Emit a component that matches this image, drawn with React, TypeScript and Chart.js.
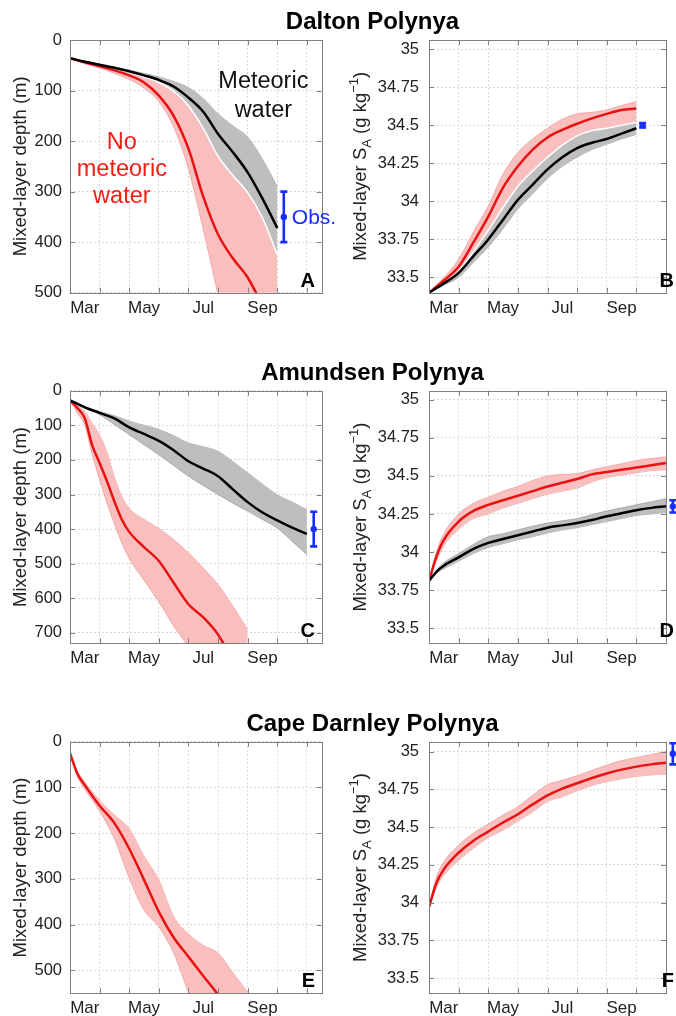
import React, { useEffect, useRef } from "react";
import { Chart, registerables } from "chart.js";
Chart.register(...registerables);

const FONT = '"Liberation Sans", Arial, Helvetica, sans-serif';
const RED = "rgb(232,18,18)";
const PINK = "rgb(249,190,190)";
const PINK_EDGE = "rgb(238,160,160)";
const GRAY = "rgb(190,190,190)";
const GRAY_EDGE = "rgb(160,160,160)";
const BLUE = "rgb(25,45,255)";

// ---------- axis ticks ----------
const MONTH_BOUNDS = [0, 1, 2, 3, 4, 5, 6, 7, 8];
const MONTH_LABEL_POS = [0.5, 2.5, 4.5, 6.5];
const MONTH_LABELS = ["Mar", "May", "Jul", "Sep"];
const DEPTH_TICKS_A = [0, 100, 200, 300, 400, 500];
const DEPTH_TICKS_C = [0, 100, 200, 300, 400, 500, 600, 700];
const SAL_TICKS = [33.5, 33.75, 34, 34.25, 34.5, 34.75, 35];
const SAL_TICK_LABELS = ["33.5", "33.75", "34", "34.25", "34.5", "34.75", "35"];

// ---------- Panel A: Dalton depth (months after 1 Mar) ----------
const A_X = [0, 0.5, 1, 1.5, 2, 2.5, 3, 3.5, 4, 4.5, 5, 5.5, 6, 6.5, 7];
const A_MET = [36, 43, 49, 55, 62, 70, 79, 92, 114, 142, 186, 222, 262, 314, 372];
const A_MET_SHALLOW = [36, 42, 48, 54, 60, 66, 73, 82, 94, 116, 146, 170, 192, 236, 290];
const A_MET_DEEP = [36, 44, 51, 57, 64, 73, 84, 101, 130, 175, 230, 268, 302, 352, 425];
const A_NOMET = [36, 44, 52, 60, 70, 84, 110, 150, 215, 310, 385, 432, 470, 525, 580];
const A_NOMET_SHALLOW = [36, 44, 51, 57, 64, 73, 84, 101, 130, 175, 230, 268, 302, 352, 425];
const A_NOMET_DEEP = [36, 47, 55, 66, 78, 95, 122, 172, 255, 375, 505, 640, 770, 900, 1000];
const A_OBS = { x: 7.22, y: 350, err: 50 };

// ---------- Panel B: Dalton salinity ----------
const B_X = [0, 0.5, 1, 1.5, 2, 2.5, 3, 3.5, 4, 4.5, 5, 5.5, 6, 6.5, 7];
const B_NOMET = [33.4, 33.48, 33.57, 33.73, 33.9, 34.09, 34.23, 34.34, 34.42, 34.47, 34.51, 34.545, 34.575, 34.6, 34.61];
const B_NOMET_HI = [33.4, 33.5, 33.62, 33.8, 33.97, 34.18, 34.32, 34.41, 34.48, 34.54, 34.575, 34.585, 34.6, 34.63, 34.655];
const B_EDGE = [33.4, 33.46, 33.54, 33.67, 33.81, 33.96, 34.1, 34.2, 34.29, 34.37, 34.43, 34.465, 34.48, 34.5, 34.52];
const B_MET = [33.4, 33.46, 33.53, 33.64, 33.75, 33.88, 34.01, 34.11, 34.21, 34.29, 34.35, 34.385, 34.41, 34.445, 34.48];
const B_MET_LO = [33.4, 33.45, 33.5, 33.6, 33.7, 33.82, 33.95, 34.05, 34.15, 34.23, 34.29, 34.34, 34.375, 34.41, 34.44];
const B_OBS = { x: 7.21, y: 34.5, err: 0.015 };

// ---------- Panel C: Amundsen depth ----------
const C_X = [0, 0.5, 1, 1.5, 2, 2.5, 3, 3.5, 4, 4.5, 5, 5.5, 6, 6.5, 7, 7.5, 8];
const C_MET = [28, 48, 64, 80, 106, 125, 145, 172, 204, 225, 247, 285, 322, 352, 375, 396, 414];
const C_MET_SHALLOW = [28, 46, 60, 72, 88, 100, 112, 130, 151, 162, 175, 205, 237, 270, 301, 322, 344];
const C_MET_DEEP = [28, 50, 69, 98, 127, 156, 185, 216, 247, 274, 300, 325, 348, 372, 397, 435, 474];
const C_NM_X = [0, 0.25, 0.5, 0.75, 1, 1.25, 1.5, 1.75, 2, 2.5, 3, 3.5, 4, 4.5, 5, 5.5, 6];
const C_NOMET = [28, 50, 80, 158, 209, 262, 320, 372, 408, 452, 492, 555, 617, 655, 705, 780, 860];
const C_NOMET_SHALLOW = [28, 42, 60, 95, 128, 178, 250, 305, 340, 372, 398, 430, 468, 512, 560, 622, 690];
const C_NOMET_DEEP = [28, 65, 100, 185, 257, 325, 385, 440, 485, 548, 610, 680, 740, 800, 860, 920, 980];
const C_OBS = { x: 8.23, y: 400, err: 50 };

// ---------- Panel D: Amundsen salinity ----------
const D_X = [0, 0.25, 0.5, 1, 1.5, 2, 2.5, 3, 3.5, 4, 4.5, 5, 5.5, 6, 6.5, 7, 7.5, 8];
const D_NOMET = [33.81, 33.97, 34.08, 34.2, 34.27, 34.31, 34.34, 34.37, 34.4, 34.43, 34.455, 34.48, 34.51, 34.525, 34.54, 34.555, 34.57, 34.585];
const D_NOMET_HI = [33.81, 34.0, 34.12, 34.25, 34.32, 34.36, 34.4, 34.43, 34.47, 34.5, 34.51, 34.515, 34.54, 34.56, 34.58, 34.6, 34.615, 34.625];
const D_NOMET_LO = [33.81, 33.94, 34.04, 34.15, 34.22, 34.25, 34.29, 34.32, 34.35, 34.38, 34.4, 34.42, 34.46, 34.49, 34.505, 34.52, 34.535, 34.54];
const D_MET = [33.81, 33.87, 33.91, 33.965, 34.02, 34.06, 34.085, 34.11, 34.135, 34.16, 34.175, 34.19, 34.21, 34.235, 34.255, 34.275, 34.29, 34.3];
const D_MET_HI = [33.81, 33.88, 33.93, 33.99, 34.05, 34.1, 34.12, 34.145, 34.17, 34.19, 34.205, 34.22, 34.245, 34.27, 34.29, 34.31, 34.33, 34.35];
const D_MET_LO = [33.81, 33.86, 33.89, 33.94, 33.99, 34.03, 34.055, 34.08, 34.1, 34.125, 34.145, 34.16, 34.18, 34.2, 34.22, 34.24, 34.25, 34.26];
const D_OBS = { x: 8.23, y: 34.3, err: 0.04 };

// ---------- Panel E: Cape Darnley depth ----------
const E_X = [0, 0.25, 0.5, 1, 1.5, 2, 2.5, 3, 3.5, 4, 4.5, 5, 5.5, 6];
const E_NOMET = [25, 70, 95, 140, 178, 234, 302, 372, 428, 470, 512, 553, 600, 650];
const E_NOMET_SHALLOW = [25, 64, 88, 128, 160, 190, 250, 302, 382, 420, 445, 462, 505, 547];
const E_NOMET_DEEP = [25, 76, 104, 152, 212, 298, 368, 405, 462, 547, 620, 690, 760, 830];

// ---------- Panel F: Cape Darnley salinity ----------
const F_X = [0, 0.25, 0.5, 1, 1.5, 2, 2.5, 3, 3.5, 4, 4.5, 5, 5.5, 6, 6.5, 7, 7.5, 8];
const F_NOMET = [33.97, 34.13, 34.22, 34.33, 34.41, 34.47, 34.53, 34.585, 34.65, 34.71, 34.755, 34.79, 34.825, 34.855, 34.88, 34.9, 34.915, 34.925];
const F_NOMET_HI = [33.97, 34.17, 34.27, 34.38, 34.46, 34.52, 34.58, 34.635, 34.71, 34.78, 34.81, 34.84, 34.875, 34.91, 34.94, 34.96, 34.98, 35.0];
const F_NOMET_LO = [33.97, 34.1, 34.18, 34.28, 34.36, 34.43, 34.48, 34.54, 34.6, 34.67, 34.7, 34.74, 34.775, 34.8, 34.82, 34.835, 34.845, 34.85];
const F_OBS = { x: 8.23, y: 34.985, err: 0.07 };

const TITLES = ["Dalton Polynya", "Amundsen Polynya", "Cape Darnley Polynya"];

// ---------- types ----------
type Band = { x: number[]; a: number[]; b: number[]; fill: string; edge: string };
type Line = { x: number[]; y: number[]; color: string; width: number };
type Txt = { lines: string[]; x: number; y: number[]; color: string; size: number };
type Panel = {
  key: string;
  left: number; top: number; width: number; height: number;
  yAxisW: number; padTop: number; padRight: number; xAxisH: number;
  xMax: number; yMin: number; yMax: number; reverse: boolean;
  yTicks: number[]; yTickLabels: string[]; yLabelPad: number;
  yTitle: "depth" | "sal"; yTitleX: number;
  bands: Band[]; lines: Line[]; white?: { x: number[]; y: number[] };
  obs?: { x: number; y: number; err: number };
  obsText?: string;
  letter: string; letterRight: number;
  texts: Txt[];
};

const LEFT = { left: 0, width: 345, yAxisW: 70, padRight: 23.3, yLabelPad: 8, yTitleX: 26, letterRight: 315 };
const RIGHT = { left: 338, width: 338, yAxisW: 91, padRight: 10, yLabelPad: 10, yTitleX: 28, letterRight: 336 };
const ROW1 = { top: 0, height: 330, padTop: 40, xAxisH: 37.3 };
const ROW2 = { top: 340, height: 340, padTop: 50.7, xAxisH: 36.7 };
const ROW3 = { top: 690, height: 326, padTop: 51.7, xAxisH: 22.7 };

const depthLabels = (t: number[]) => t.map((v) => String(v));

const PANELS: Panel[] = [
  {
    key: "A", ...LEFT, ...ROW1, xMax: 8.5, yMin: 0, yMax: 500, reverse: true,
    yTicks: DEPTH_TICKS_A, yTickLabels: depthLabels(DEPTH_TICKS_A), yTitle: "depth",
    bands: [
      { x: A_X, a: A_NOMET_SHALLOW, b: A_NOMET_DEEP, fill: PINK, edge: PINK_EDGE },
      { x: A_X, a: A_MET_SHALLOW, b: A_MET_DEEP, fill: GRAY, edge: GRAY_EDGE },
    ],
    white: { x: A_X, y: A_MET_DEEP },
    lines: [
      { x: A_X, y: A_MET, color: "#000", width: 2.5 },
      { x: A_X, y: A_NOMET, color: RED, width: 2.5 },
    ],
    obs: A_OBS, obsText: "Obs.", letter: "A",
    texts: [
      { lines: ["Meteoric", "water"], x: 6.53, y: [95.6, 151.8], color: "#111", size: 23.5 },
      { lines: ["No", "meteoric", "water"], x: 1.75, y: [216, 270, 323], color: "rgb(240,30,20)", size: 23.5 },
    ],
  },
  {
    key: "B", ...RIGHT, ...ROW1, xMax: 8, yMin: 33.4, yMax: 35.06, reverse: false,
    yTicks: SAL_TICKS, yTickLabels: SAL_TICK_LABELS, yTitle: "sal",
    bands: [
      { x: B_X, a: B_EDGE, b: B_NOMET_HI, fill: PINK, edge: PINK_EDGE },
      { x: B_X, a: B_MET_LO, b: B_EDGE, fill: GRAY, edge: GRAY_EDGE },
    ],
    white: { x: B_X, y: B_EDGE },
    lines: [
      { x: B_X, y: B_MET, color: "#000", width: 2.5 },
      { x: B_X, y: B_NOMET, color: RED, width: 2.5 },
    ],
    obs: B_OBS, letter: "B", texts: [],
  },
  {
    key: "C", ...LEFT, ...ROW2, xMax: 8.5, yMin: 0, yMax: 730, reverse: true,
    yTicks: DEPTH_TICKS_C, yTickLabels: depthLabels(DEPTH_TICKS_C), yTitle: "depth",
    bands: [
      { x: C_NM_X, a: C_NOMET_SHALLOW, b: C_NOMET_DEEP, fill: PINK, edge: PINK_EDGE },
      { x: C_X, a: C_MET_SHALLOW, b: C_MET_DEEP, fill: GRAY, edge: GRAY_EDGE },
    ],
    lines: [
      { x: C_X, y: C_MET, color: "#000", width: 2.5 },
      { x: C_NM_X, y: C_NOMET, color: RED, width: 2.5 },
    ],
    obs: C_OBS, letter: "C", texts: [],
  },
  {
    key: "D", ...RIGHT, ...ROW2, xMax: 8, yMin: 33.4, yMax: 35.06, reverse: false,
    yTicks: SAL_TICKS, yTickLabels: SAL_TICK_LABELS, yTitle: "sal",
    bands: [
      { x: D_X, a: D_NOMET_LO, b: D_NOMET_HI, fill: PINK, edge: PINK_EDGE },
      { x: D_X, a: D_MET_LO, b: D_MET_HI, fill: GRAY, edge: GRAY_EDGE },
    ],
    lines: [
      { x: D_X, y: D_MET, color: "#000", width: 2.5 },
      { x: D_X, y: D_NOMET, color: RED, width: 2.5 },
    ],
    obs: D_OBS, letter: "D", texts: [],
  },
  {
    key: "E", ...LEFT, ...ROW3, xMax: 8.5, yMin: 0, yMax: 550, reverse: true,
    yTicks: DEPTH_TICKS_A, yTickLabels: depthLabels(DEPTH_TICKS_A), yTitle: "depth",
    bands: [{ x: E_X, a: E_NOMET_SHALLOW, b: E_NOMET_DEEP, fill: PINK, edge: PINK_EDGE }],
    lines: [{ x: E_X, y: E_NOMET, color: RED, width: 2.5 }],
    letter: "E", texts: [],
  },
  {
    key: "F", ...RIGHT, ...ROW3, xMax: 8, yMin: 33.4, yMax: 35.065, reverse: false,
    yTicks: SAL_TICKS, yTickLabels: SAL_TICK_LABELS, yTitle: "sal",
    bands: [{ x: F_X, a: F_NOMET_LO, b: F_NOMET_HI, fill: PINK, edge: PINK_EDGE }],
    lines: [{ x: F_X, y: F_NOMET, color: RED, width: 2.5 }],
    obs: F_OBS, letter: "F", texts: [],
  },
];

const pts = (xs: number[], ys: number[]) => xs.map((x, i) => ({ x, y: ys[i] }));
const near = (a: number, b: number) => Math.abs(a - b) < 1e-6;

function drawYTitle(ctx: CanvasRenderingContext2D, kind: "depth" | "sal", cx: number, cy: number) {
  const size = 18.5;
  const small = 13;
  const segs =
    kind === "depth"
      ? [{ t: "Mixed-layer depth (m)", s: size, dy: 0 }]
      : [
          { t: "Mixed-layer S", s: size, dy: 0 },
          { t: "A", s: small, dy: 5 },
          { t: " (g kg", s: size, dy: 0 },
          { t: "\u22121", s: small, dy: -8 },
          { t: ")", s: size, dy: 0 },
        ];
  ctx.save();
  ctx.fillStyle = "#222";
  ctx.textBaseline = "alphabetic";
  ctx.textAlign = "left";
  let total = 0;
  const widths = segs.map((sg) => {
    ctx.font = `${sg.s}px ${FONT}`;
    const w = ctx.measureText(sg.t).width;
    total += w;
    return w;
  });
  ctx.translate(cx, cy);
  ctx.rotate(-Math.PI / 2);
  let x = -total / 2;
  segs.forEach((sg, i) => {
    ctx.font = `${sg.s}px ${FONT}`;
    ctx.fillText(sg.t, x, sg.dy);
    x += widths[i];
  });
  ctx.restore();
}

function makePlugin(p: Panel) {
  return {
    id: "deco" + p.key,
    afterDatasetsDraw(chart: any) {
      const { ctx, chartArea: a, scales } = chart;
      const xs = scales.x;
      const ys = scales.y;
      ctx.save();
      // frame
      ctx.strokeStyle = "#808080";
      ctx.lineWidth = 1;
      ctx.strokeRect(Math.round(a.left) + 0.5, Math.round(a.top) + 0.5, Math.round(a.right) - Math.round(a.left), Math.round(a.bottom) - Math.round(a.top));
      // inward ticks
      ctx.beginPath();
      MONTH_BOUNDS.forEach((m) => {
        if (m <= 0 || m >= p.xMax) return;
        const px = Math.round(xs.getPixelForValue(m)) + 0.5;
        ctx.moveTo(px, a.bottom);
        ctx.lineTo(px, a.bottom - 5);
        ctx.moveTo(px, a.top);
        ctx.lineTo(px, a.top + 5);
      });
      p.yTicks.forEach((v) => {
        const py = Math.round(ys.getPixelForValue(v)) + 0.5;
        ctx.moveTo(a.left, py);
        ctx.lineTo(a.left + 5, py);
        ctx.moveTo(a.right, py);
        ctx.lineTo(a.right - 5, py);
      });
      ctx.stroke();
      // annotations
      p.texts.forEach((t) => {
        ctx.font = `${t.size}px ${FONT}`;
        ctx.fillStyle = t.color;
        ctx.textAlign = "center";
        ctx.textBaseline = "alphabetic";
        const px = xs.getPixelForValue(t.x);
        t.lines.forEach((ln, i) => ctx.fillText(ln, px, ys.getPixelForValue(t.y[i])));
      });
      // observation error bar
      if (p.obs) {
        const o = p.obs;
        const px = xs.getPixelForValue(o.x);
        const p0 = ys.getPixelForValue(o.y - o.err);
        const p1 = ys.getPixelForValue(o.y + o.err);
        const pc = ys.getPixelForValue(o.y);
        ctx.strokeStyle = BLUE;
        ctx.fillStyle = BLUE;
        ctx.lineWidth = 2.6;
        ctx.beginPath();
        ctx.moveTo(px, p0);
        ctx.lineTo(px, p1);
        ctx.moveTo(px - 3.5, p0);
        ctx.lineTo(px + 3.5, p0);
        ctx.moveTo(px - 3.5, p1);
        ctx.lineTo(px + 3.5, p1);
        ctx.stroke();
        ctx.beginPath();
        ctx.arc(px, pc, 3.2, 0, Math.PI * 2);
        ctx.fill();
        if (p.obsText) {
          ctx.font = `21px ${FONT}`;
          ctx.textAlign = "left";
          ctx.textBaseline = "middle";
          ctx.fillText(p.obsText, px + 8, pc + 1);
        }
      }
      // panel letter
      ctx.font = `bold 20px ${FONT}`;
      ctx.fillStyle = "#000";
      ctx.textAlign = "right";
      ctx.textBaseline = "alphabetic";
      ctx.fillText(p.letter, p.letterRight, a.bottom - 6);
      ctx.restore();
      // y title
      drawYTitle(ctx, p.yTitle, p.yTitleX, (a.top + a.bottom) / 2);
    },
  };
}

function buildDatasets(p: Panel) {
  const base = { pointRadius: 0, pointHoverRadius: 0, cubicInterpolationMode: "monotone", clip: 0 };
  const ds: any[] = [];
  p.lines.forEach((l) =>
    ds.push({ ...base, data: pts(l.x, l.y), borderColor: l.color, borderWidth: l.width, fill: false })
  );
  if (p.white) {
    ds.push({ ...base, data: pts(p.white.x, p.white.y), borderColor: "#fff", borderWidth: 1.6, fill: false });
  }
  [...p.bands].reverse().forEach((b) => {
    ds.push({ ...base, data: pts(b.x, b.b), borderColor: b.edge, borderWidth: 0.8, backgroundColor: b.fill, fill: "+1" });
    ds.push({ ...base, data: pts(b.x, b.a), borderColor: b.edge, borderWidth: 0.8, fill: false });
  });
  return ds;
}

function PanelChart({ p }: { p: Panel }) {
  const ref = useRef<HTMLCanvasElement | null>(null);
  useEffect(() => {
    if (!ref.current) return;
    const xTicks = [...MONTH_BOUNDS, ...MONTH_LABEL_POS].filter((v) => v <= p.xMax).sort((a, b) => a - b);
    const chart = new Chart(ref.current, {
      type: "line",
      data: { datasets: buildDatasets(p) },
      options: {
        responsive: false,
        animation: false,
        devicePixelRatio: 1,
        layout: { padding: { left: 0, top: p.padTop, right: p.padRight, bottom: 0 } },
        plugins: { legend: { display: false }, tooltip: { enabled: false } },
        events: [],
        scales: {
          x: {
            type: "linear",
            min: 0,
            max: p.xMax,
            afterBuildTicks: (s: any) => {
              s.ticks = xTicks.map((v) => ({ value: v }));
            },
            afterFit: (s: any) => {
              s.height = p.xAxisH;
              s.paddingLeft = 0;
              s.paddingRight = 0;
              s.paddingTop = 0;
              s.paddingBottom = 0;
            },
            ticks: {
              autoSkip: false,
              maxRotation: 0,
              minRotation: 0,
              padding: 5,
              color: "#222",
              font: { family: FONT, size: 17 },
              callback: (v: any) => {
                const i = MONTH_LABEL_POS.findIndex((m) => near(m, Number(v)));
                return i >= 0 ? MONTH_LABELS[i] : "";
              },
            },
            grid: {
              drawTicks: false,
              lineWidth: 1,
              color: (c: any) => {
                const v = c.tick ? c.tick.value : 0.5;
                return MONTH_BOUNDS.some((m) => near(m, v)) ? "#d9d9d9" : "rgba(0,0,0,0)";
              },
            },
            border: { display: false, dash: [2, 2] },
          },
          y: {
            type: "linear",
            min: p.yMin,
            max: p.yMax,
            reverse: p.reverse,
            afterBuildTicks: (s: any) => {
              s.ticks = p.yTicks.map((v) => ({ value: v }));
            },
            afterFit: (s: any) => {
              s.width = p.yAxisW;
              s.paddingLeft = 0;
              s.paddingRight = 0;
              s.paddingTop = 0;
              s.paddingBottom = 0;
            },
            ticks: {
              padding: p.yLabelPad,
              color: "#222",
              font: { family: FONT, size: 16.5 },
              callback: (v: any) => {
                const i = p.yTicks.findIndex((t) => near(t, Number(v)));
                return i >= 0 ? p.yTickLabels[i] : "";
              },
            },
            grid: { drawTicks: false, lineWidth: 1, color: "#d9d9d9" },
            border: { display: false, dash: [2, 2] },
          },
        },
      } as any,
      plugins: [makePlugin(p)],
    });
    return () => chart.destroy();
  }, [p]);
  return (
    <canvas
      ref={ref}
      width={p.width}
      height={p.height}
      style={{ position: "absolute", left: p.left, top: p.top, width: p.width, height: p.height }}
    />
  );
}

const TITLE_TOPS = [9, 359.7, 711.4];

export default function App() {
  return (
    <div style={{ position: "absolute", left: 0, top: 0, width: 676, height: 1016, background: "#fff", overflow: "hidden" }}>
      {PANELS.map((p) => (
        <PanelChart key={p.key} p={p} />
      ))}
      {TITLES.map((t, i) => (
        <div
          key={t}
          style={{
            position: "absolute",
            left: 0,
            width: 745,
            top: TITLE_TOPS[i],
            textAlign: "center",
            font: `bold 24px ${FONT}`,
            lineHeight: "24px",
            color: "#000",
            whiteSpace: "nowrap",
          }}
        >
          {t}
        </div>
      ))}
    </div>
  );
}
